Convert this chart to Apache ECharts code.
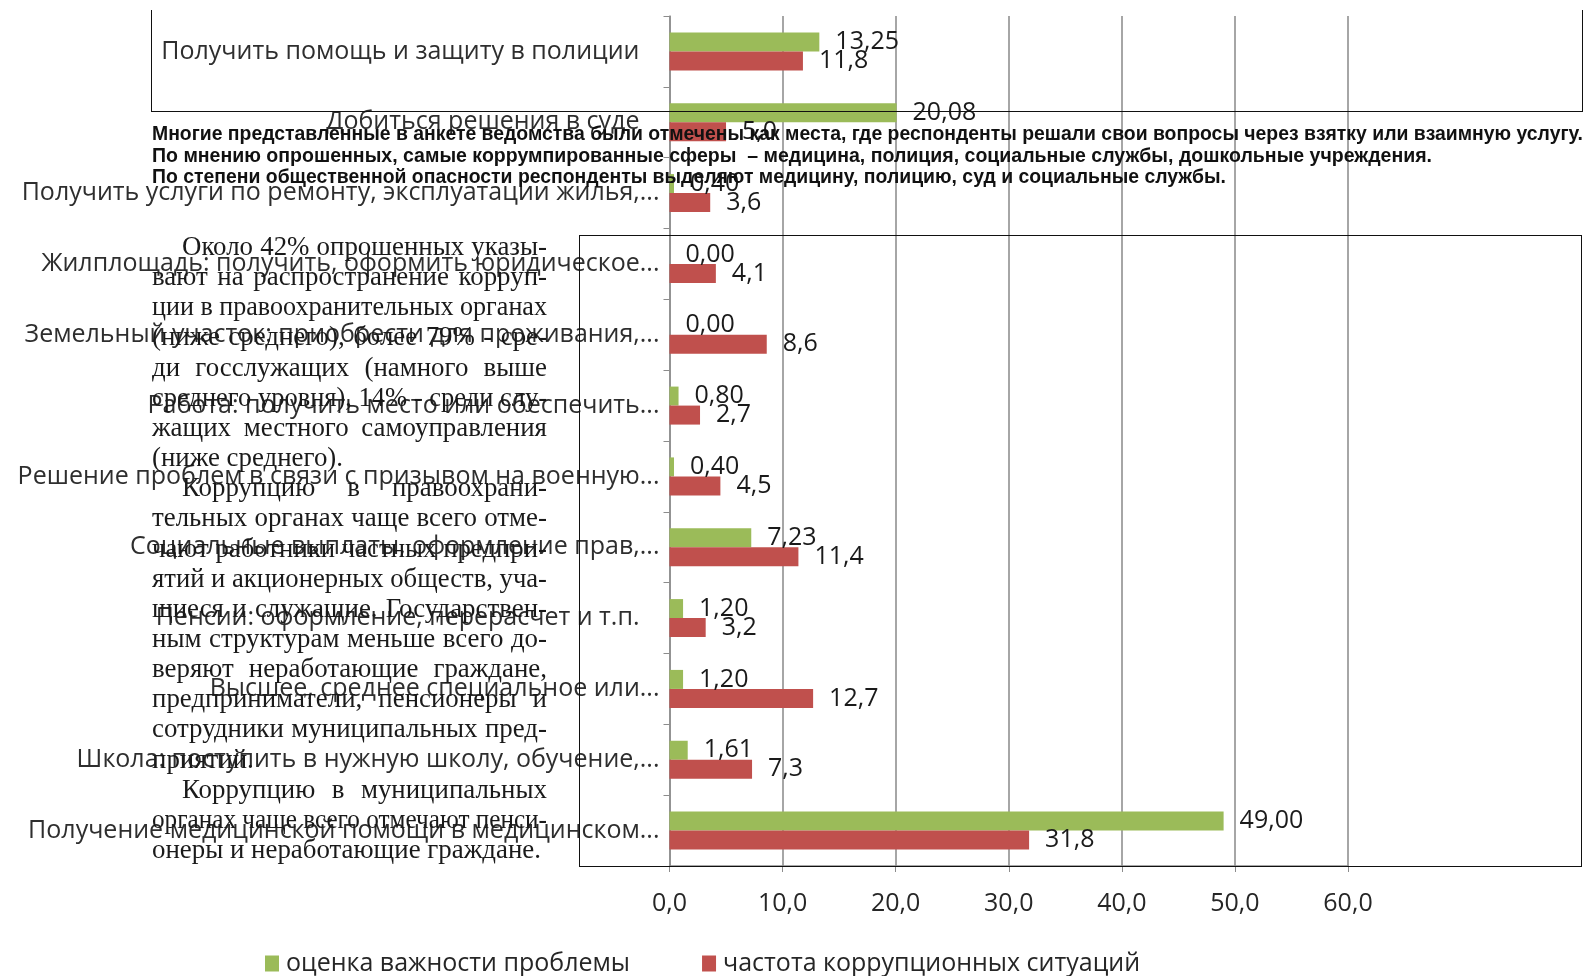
<!DOCTYPE html>
<html><head><meta charset="utf-8">
<script src="https://cdn.jsdelivr.net/npm/echarts@6/dist/echarts.min.js"></script>
<style>
html,body{margin:0;padding:0;background:#fff;}
#wrap{position:relative;width:1588px;height:976px;overflow:hidden;background:#fff;}
#chart{position:absolute;left:0;top:0;width:1588px;height:976px;}
.ov{position:absolute;pointer-events:none;}
.bold{font-family:"Liberation Sans Narrow","Arial Narrow","Liberation Sans","DejaVu Sans Condensed",sans-serif;font-weight:bold;font-size:20px;color:#111;white-space:pre;transform-origin:0 50%;line-height:22px;}
.ser{font-family:"Liberation Serif","DejaVu Serif",serif;font-size:28px;color:#1a1a1a;white-space:pre;line-height:30px;transform-origin:0 50%;}
.box{position:absolute;border-color:#111;border-style:solid;border-width:0;box-sizing:border-box;}
</style></head><body>
<div id="wrap"><div id="chart"></div></div>
<script>
// ---- data ----
const categories = [
  "Получить помощь и защиту в полиции",
  "Добиться решения в суде",
  "Получить услуги по ремонту, эксплуатации жилья,...",
  "Жилплощадь: получить, оформить юридическое...",
  "Земельный участок: приобрести для проживания,...",
  "Работа: получить место или обеспечить...",
  "Решение проблем в связи с призывом на военную...",
  "Социальные выплаты, оформление прав,...",
  "Пенсии: оформление, перерасчет и т.п.",
  "Высшее, среднее специальное или...",
  "Школа: поступить в нужную школу, обучение,...",
  "Получение медицинской помощи в медицинском..."
];
const importance = [13.25, 20.08, 0.40, 0.00, 0.00, 0.80, 0.40, 7.23, 1.20, 1.20, 1.61, 49.00];
const corruption = [11.8, 5.0, 3.6, 4.1, 8.6, 2.7, 4.5, 11.4, 3.2, 12.7, 7.3, 31.8];
const seriesNames = ["оценка важности проблемы", "частота коррупционных ситуаций"];
const xMin = 0, xMax = 60, xStep = 10;

const noteLines = [
  "Многие представленные в анкете ведомства были отмечены как места, где респонденты решали свои вопросы через взятку или взаимную услугу.",
  "По мнению опрошенных, самые коррумпированные сферы  – медицина, полиция, социальные службы, дошкольные учреждения.",
  "По степени общественной опасности респонденты выделяют медицину, полицию, суд и социальные службы."
];
const paragraphs = [
  ["Около 42% опрошенных указы-",
   "вают на распространение корруп-",
   "ции в правоохранительных органах",
   "(ниже среднего), более 79% - сре-",
   "ди госслужащих (намного выше",
   "среднего уровня), 14% - среди слу-",
   "жащих местного самоуправления",
   "(ниже среднего)."],
  ["Коррупцию в правоохрани-",
   "тельных органах чаще всего отме-",
   "чают работники частных предпри-",
   "ятий и акционерных обществ, уча-",
   "щиеся и служащие. Государствен-",
   "ным структурам меньше всего до-",
   "веряют неработающие граждане,",
   "предприниматели, пенсионеры и",
   "сотрудники муниципальных пред-",
   "приятий."],
  ["Коррупцию в муниципальных",
   "органах чаще всего отмечают пенси-",
   "онеры и неработающие граждане."]
];

// ---- chart ----
const FONT = '"Open Sans","Noto Sans",sans-serif';
const fmt1 = v => Number(v).toFixed(1).replace('.', ',');
const fmt2 = v => Number(v).toFixed(2).replace('.', ',');
const chart = echarts.init(document.getElementById('chart'));
chart.setOption({
  animation: false,
  grid: {left: 669.5, right: 240, top: 16, bottom: 110, containLabel: false},
  legend: {
    data: seriesNames, left: 265, top: 951, icon: 'rect', itemWidth: 14, itemHeight: 16,
    itemGap: 72, padding: 0,
    textStyle: {fontFamily: FONT, fontSize: 25, color: '#262626', padding: [0, 0, 0, 2]}
  },
  xAxis: {
    type: 'value', min: xMin, max: xMax, interval: xStep,
    axisLine: {show: true, lineStyle: {color: '#8c8c8c', width: 1.5}},
    axisTick: {show: true, length: 6, lineStyle: {color: '#8c8c8c'}},
    splitLine: {show: true, lineStyle: {color: '#a6a6a6', width: 2}},
    axisLabel: {margin: 25, fontFamily: FONT, fontSize: 25, color: '#262626', formatter: v => fmt1(v)}
  },
  yAxis: {
    type: 'category', inverse: true, data: categories,
    axisLine: {show: true, lineStyle: {color: '#8c8c8c', width: 1.5}},
    axisTick: {show: true, length: 6, lineStyle: {color: '#8c8c8c'}},
    axisLabel: {
      margin: 10, fontFamily: FONT, fontSize: 25, color: '#2e2e2e',
      formatter: v => v.endsWith('...') ? v : v + '{pad| }',
      rich: {pad: {width: 20, fontSize: 25}}
    }
  },
  series: [
    {
      name: seriesNames[0], type: 'bar', data: importance, barWidth: 19, barGap: '0%',
      itemStyle: {color: '#9BBB59'},
      label: {show: true, position: 'right', distance: 16, fontFamily: FONT, fontSize: 25, color: '#1a1a1a', formatter: p => fmt2(p.value)}
    },
    {
      name: seriesNames[1], type: 'bar', data: corruption, barWidth: 19, barGap: '0%',
      itemStyle: {color: '#C0504D'},
      label: {show: true, position: 'right', distance: 16, fontFamily: FONT, fontSize: 25, color: '#1a1a1a', formatter: p => fmt1(p.value)}
    }
  ]
});

// ---- overlays ----
const wrap = document.getElementById('wrap');
function box(l, t, w, h, bw) {
  const d = document.createElement('div');
  d.className = 'box';
  d.style.left = l + 'px'; d.style.top = t + 'px';
  d.style.width = w + 'px'; d.style.height = h + 'px';
  d.style.borderWidth = bw;
  wrap.appendChild(d);
}
box(151, 10, 1432, 102, '0 1.5px 1.5px 1.5px');
box(579, 235, 1003, 632, '1.5px');

const noteTargets = [1431, 1280, 1074];
noteLines.forEach((txt, i) => {
  const d = document.createElement('div');
  d.className = 'ov bold';
  d.textContent = txt;
  d.style.left = '152px';
  d.style.top = (133 + i * 21.7 - 11) + 'px';
  wrap.appendChild(d);
  const w = d.getBoundingClientRect().width;
  d.style.transform = 'scaleX(' + (noteTargets[i] / w) + ')';
});

const baseScale = 0.96;
let li = 0;
paragraphs.forEach(par => {
  par.forEach((txt, j) => {
    const indent = j === 0 ? 30 : 0;
    const avail = 395 - indent;
    const last = j === par.length - 1;
    const d = document.createElement('div');
    d.className = 'ov ser';
    d.style.left = (152 + indent) + 'px';
    d.style.top = (246 - 15 + li * 30.15) + 'px';
    const s = document.createElement('span');
    s.textContent = txt;
    d.appendChild(s);
    wrap.appendChild(d);
    const w = s.getBoundingClientRect().width;
    let sc = baseScale;
    if (w * sc > avail) sc = avail / w;
    d.style.transform = 'scaleX(' + sc + ')';
    if (!last) {
      d.style.width = (avail / sc) + 'px';
      d.style.whiteSpace = 'normal';
      d.style.textAlign = 'justify';
      d.style.textAlignLast = 'justify';
    }
    li++;
  });
});
</script>
</body></html>
